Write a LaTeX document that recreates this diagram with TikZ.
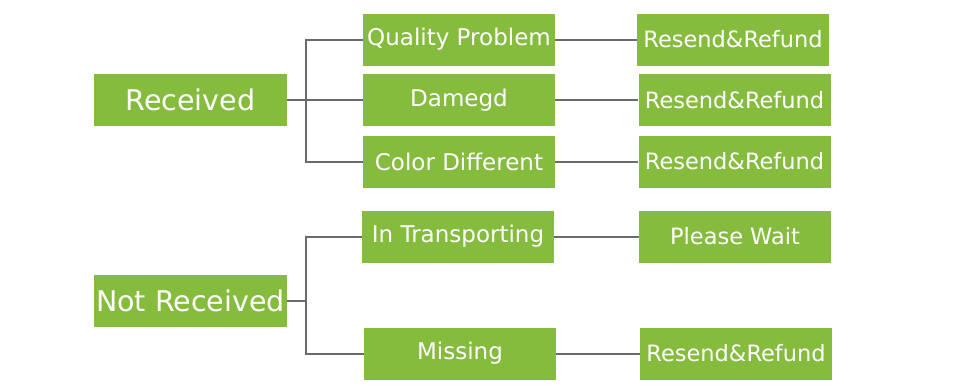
\documentclass[tikz,border=0pt]{standalone}
\usepackage{fontspec}
\setmainfont{DejaVu Sans}
\usepackage{xcolor}
\definecolor{leaf}{HTML}{86BC3E}
\definecolor{wire}{HTML}{6A6A6A}

\begin{document}
\begin{tikzpicture}[x=1pt,y=-1pt,
                    box/.style={fill=leaf,text=white,inner sep=0pt,minimum height=52pt,align=center},
                    rootbox/.style={box,minimum width=193pt,font=\fontsize{28.5}{30}\selectfont},
                    midbox/.style={box,minimum width=192pt,font=\fontsize{23}{25}\selectfont},
                    endbox/.style={box,minimum width=192pt,font=\fontsize{22.5}{24}\selectfont},
                    link/.style={draw=wire,line width=2pt}]
\useasboundingbox (0,0) rectangle (960,386);
\node[rootbox] (recv)    at (190.5,100) {Received};
\node[rootbox] (notrecv) at (190.5,301) {Not Received};
\node[midbox]  (quality) at (459,39.5)  {Quality Problem};
\node[midbox]  (damaged) at (459,100)   {Damegd};
\node[midbox]  (color)   at (459,161.5) {Color Different};
\node[midbox]  (transit) at (458,236.5) {In Transporting};
\node[midbox]  (missing) at (460,353.5) {Missing};
\node[endbox]  (refundA) at (733,39.5)  {Resend\&Refund};
\node[endbox]  (refundB) at (734.5,100) {Resend\&Refund};
\node[endbox]  (refundC) at (734.5,161.5) {Resend\&Refund};
\node[endbox]  (wait)    at (735,236.5) {Please Wait};
\node[endbox]  (refundD) at (736,353.5) {Resend\&Refund};
% branches
\draw[link] (recv.east) -- ++(19,0) |- (quality.west);
\draw[link] (recv.east) -- (damaged.west);
\draw[link] (recv.east) -- ++(19,0) |- (color.west);
\draw[link] (notrecv.east) -- ++(19,0) |- (transit.west);
\draw[link] (notrecv.east) -- ++(19,0) |- (missing.west);
% outcomes
\draw[link] (quality) -- (refundA);
\draw[link] (damaged) -- (refundB);
\draw[link] (color) -- (refundC);
\draw[link] (transit) -- (wait);
\draw[link] (missing) -- (refundD);
\end{tikzpicture}
\end{document}
